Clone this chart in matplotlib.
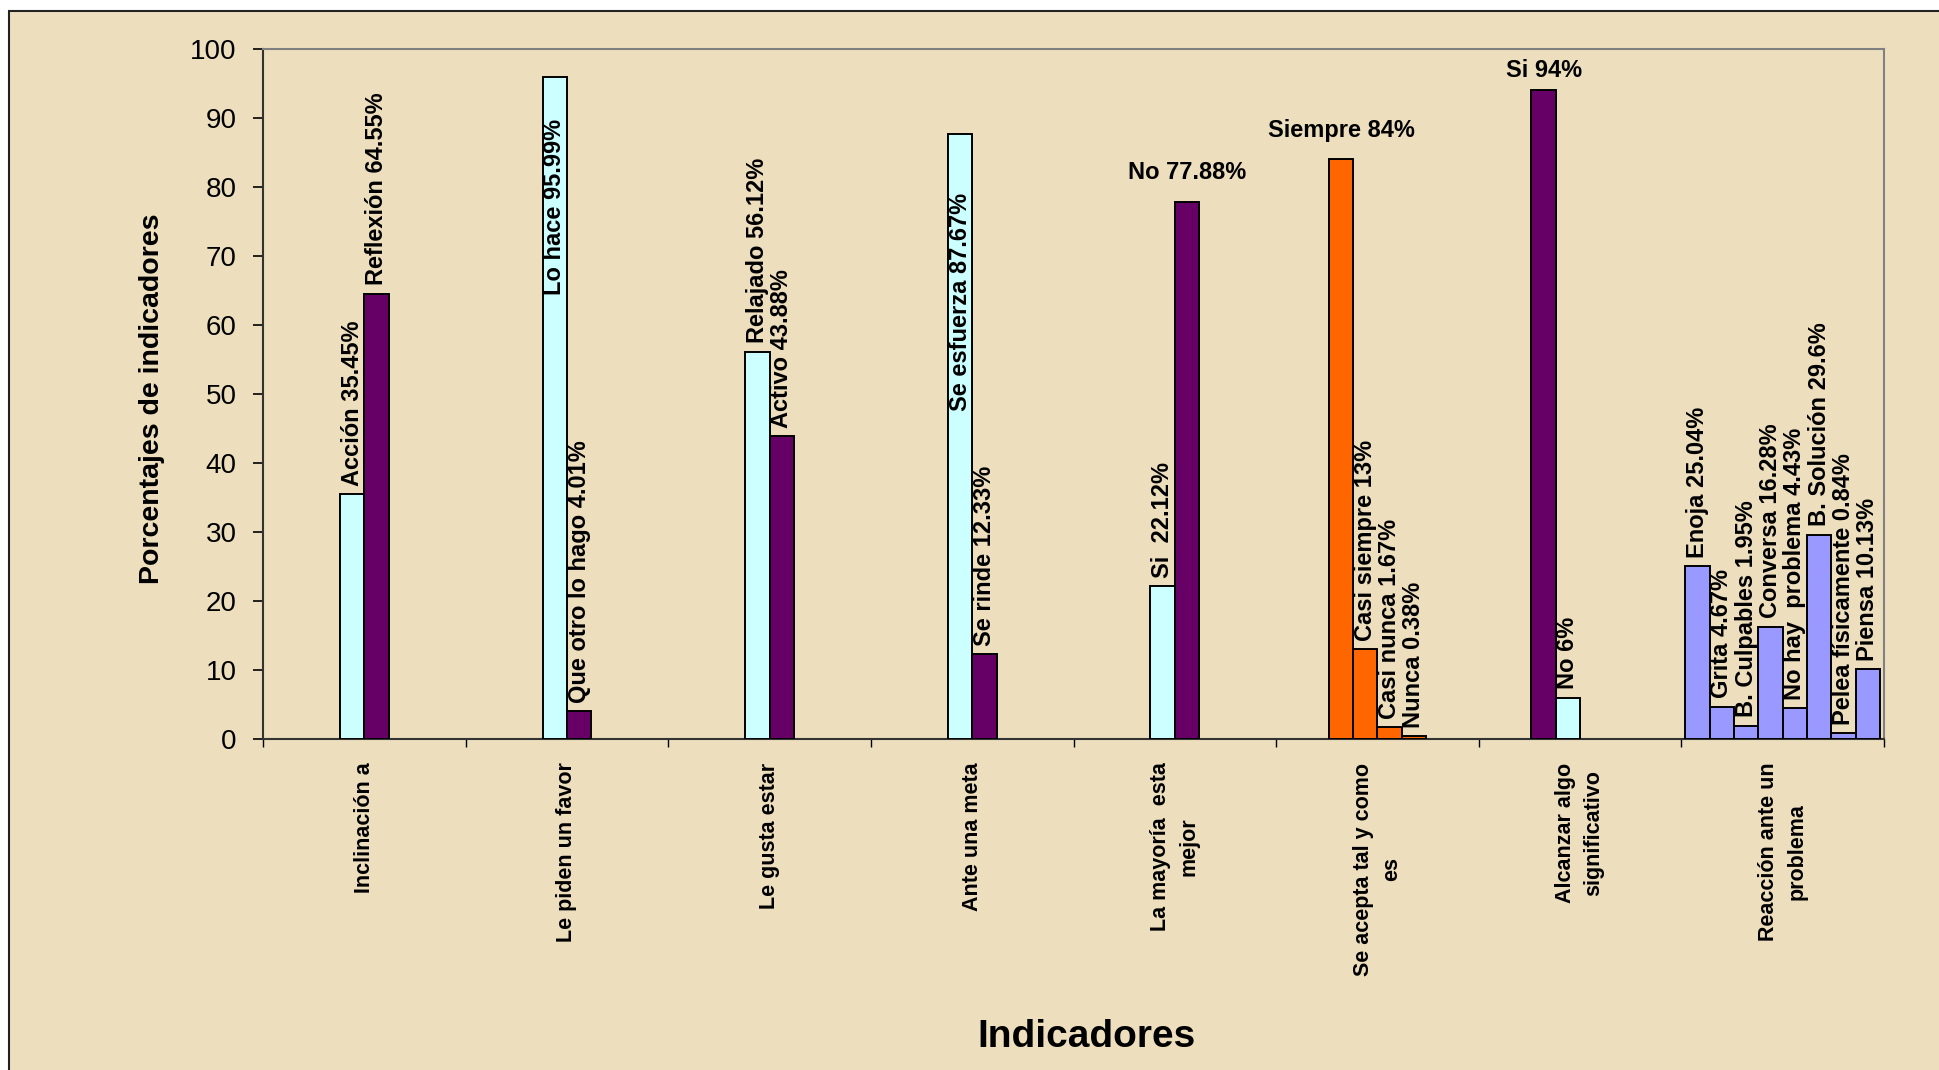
import matplotlib
matplotlib.use("Agg")
import matplotlib.pyplot as plt
from matplotlib import font_manager
from matplotlib.patches import Rectangle

# categorias del eje x
categories = [
    "Inclinación a",
    "Le piden un favor",
    "Le gusta estar",
    "Ante una meta",
    "La mayoría  esta\nmejor",
    "Se acepta tal y como\nes",
    "Alcanzar algo\nsignificativo",
    "Reacción ante un\nproblema",
]

# respuestas y porcentajes por categoria
names = [
    ["Acción", "Reflexión"],
    ["Lo hace", "Que otro lo hago"],
    ["Relajado", "Activo"],
    ["Se esfuerza", "Se rinde"],
    ["Si ", "No"],
    ["Siempre", "Casi siempre", "Casi nunca", "Nunca"],
    ["Si", "No"],
    ["Enoja", "Grita", "B. Culpables", "Conversa", "No hay  problema",
     "B. Solución", "Pelea físicamente", "Piensa"],
]
values = [
    [35.45, 64.55],
    [95.99, 4.01],
    [56.12, 43.88],
    [87.67, 12.33],
    [22.12, 77.88],
    [84, 13, 1.67, 0.38],
    [94, 6],
    [25.04, 4.67, 1.95, 16.28, 4.43, 29.6, 0.84, 10.13],
]

CYAN, PURPLE, ORANGE, LAVENDER = "#CCFFFF", "#660066", "#FF6600", "#9999FF"
bar_colors = [
    [CYAN, PURPLE], [CYAN, PURPLE], [CYAN, PURPLE], [CYAN, PURPLE],
    [CYAN, PURPLE], [ORANGE] * 4, [PURPLE, CYAN], [LAVENDER] * 8,
]

# etiquetas horizontales y etiquetas que Excel metio dentro de la barra
horizontal = {(4, 1): 21, (5, 0): 21, (6, 0): 14}
inside_base = {(1, 0): 64.3, (3, 0): 47.5}
# desplazamiento del grupo (en anchos de barra); Alcanzar algo queda a la izquierda
group_shift = [0, 0, 0, 0, 0, 0, -1, 0]

BG = "#EDDFBE"
W = 0.12


def has_font(name):
    try:
        font_manager.findfont(font_manager.FontProperties(family=name, weight="bold"),
                              fallback_to_default=False)
        return True
    except ValueError:
        return False


narrow = "Liberation Sans Narrow" if has_font("Liberation Sans Narrow") else None

plt.rcParams["font.family"] = ["Liberation Sans", "DejaVu Sans"]

fig = plt.figure(figsize=(19.39, 10.70), dpi=100, facecolor="white")
fig.patches.append(Rectangle((9 / 1939, -0.1), 1.2, 1 - 11 / 1070 + 0.1,
                             transform=fig.transFigure, facecolor=BG,
                             edgecolor="#222222", linewidth=1.5, zorder=-5))

ax = fig.add_axes([263 / 1939, 1 - 739 / 1070, 1621 / 1939, 690 / 1070])
ax.set_facecolor("none")
ax.set_zorder(2)

for i, (vals, labs, cols) in enumerate(zip(values, names, bar_colors)):
    n = len(vals)
    for j, (v, lab, c) in enumerate(zip(vals, labs, cols)):
        x = i + (j - (n - 1) / 2 + group_shift[i]) * W
        ax.bar(x, v, width=W, color=c, edgecolor="black", linewidth=1.4, zorder=3)
        txt = f"{lab} {v:g}%"
        if (i, j) in horizontal:
            if narrow:
                ax.annotate(txt, (x, v), xytext=(0, horizontal[(i, j)]),
                            textcoords="offset points", ha="center", va="center",
                            fontsize=20, fontweight="bold", family=narrow, zorder=4)
            else:
                ax.annotate(txt, (x, v), xytext=(0, horizontal[(i, j)]),
                            textcoords="offset points", ha="center", va="center",
                            fontsize=17, fontweight="bold", zorder=4)
        elif (i, j) in inside_base:
            ax.text(x, inside_base[(i, j)], txt, rotation=90, ha="center", va="bottom",
                    fontsize=17, fontweight="bold", zorder=4)
        else:
            ax.annotate(txt, (x, v), xytext=(0, 6), textcoords="offset points",
                        rotation=90, ha="center", va="bottom",
                        fontsize=17, fontweight="bold", zorder=4)

ax.set_xlim(-0.5, len(categories) - 0.5)
ax.set_ylim(0, 100)
ax.set_yticks(range(0, 101, 10))
ax.tick_params(axis="y", labelsize=20, length=7, width=1.2, pad=12, direction="out")

ax.set_xticks(range(len(categories)))
ax.set_xticklabels(categories, rotation=90, fontsize=15.5, fontweight="bold",
                   ha="center", va="top", linespacing=1.45)
ax.tick_params(axis="x", which="major", length=0, pad=17)
ax.set_xticks([k - 0.5 for k in range(len(categories) + 1)], minor=True)
ax.tick_params(axis="x", which="minor", length=6, width=1.0, direction="out")

for side in ("left", "bottom"):
    ax.spines[side].set_color("#333333")
    ax.spines[side].set_linewidth(1.5)
for side in ("top", "right"):
    ax.spines[side].set_color("#808080")
    ax.spines[side].set_linewidth(1.5)

fig.text(152 / 1939, 1 - 399 / 1070, "Porcentajes de indicadores", rotation=90,
         ha="center", va="center", fontsize=20.5, fontweight="bold")
fig.text(1086 / 1939, 1 - 1037 / 1070, "Indicadores", ha="center", va="center",
         fontsize=28, fontweight="bold")

fig.savefig("out.png", dpi=100, facecolor=fig.get_facecolor())
